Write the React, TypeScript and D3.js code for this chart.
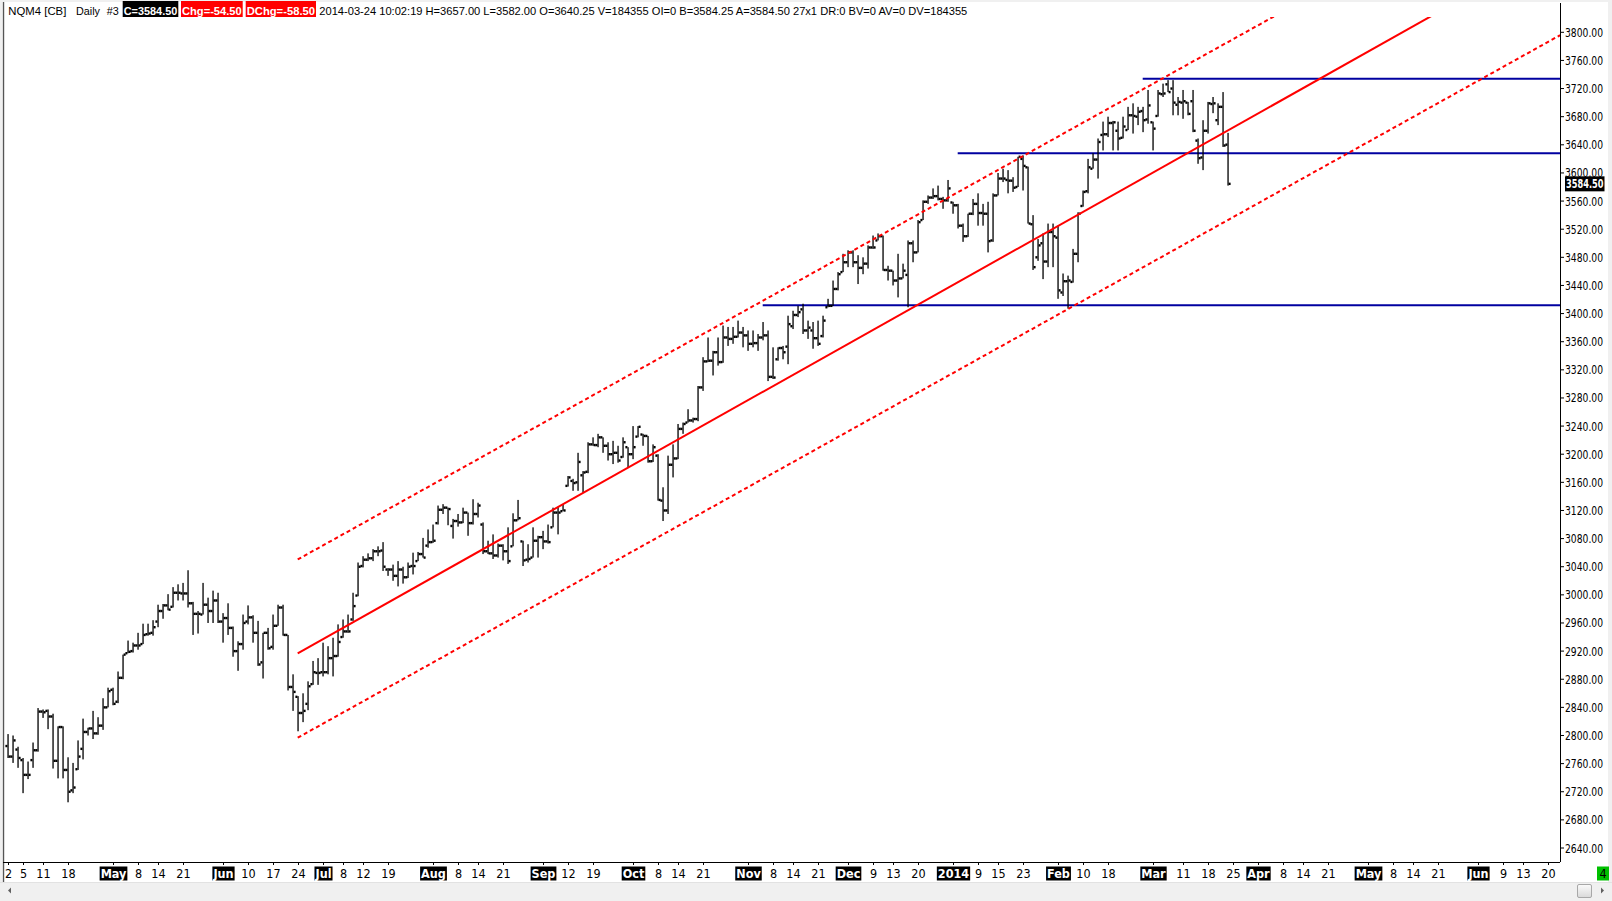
import React from 'react';
import * as d3 from 'd3';

// quote header
const symbolName = 'NQM4 [CB]';
const periodName = 'Daily';
const chartNo = '#3';
const lastClose = 3584.5;
const change = -54.5;
const dayChange = -58.5;
const quoteLine = '2014-03-24 10:02:19 H=3657.00 L=3582.00 O=3640.25 V=184355 OI=0 B=3584.25 A=3584.50 27x1 DR:0 BV=0 AV=0 DV=184355';

// calendar
const firstDay = '2013-04-02';
const lastBarDay = '2014-03-24';
const lastAxisDay = '2014-06-24';
const closedDays = ['2013-05-27', '2013-07-04', '2013-09-02', '2013-09-09', '2013-09-10', '2013-11-28',
	'2013-12-25', '2014-01-01', '2014-01-20', '2014-02-17'];

// daily bars
const opens = [2785, 2770, 2780, 2765, 2744, 2765, 2779, 2834, 2835, 2827,
	2764, 2812, 2751, 2722, 2752, 2781, 2805, 2810, 2803, 2814,
	2840, 2865, 2848, 2882, 2917, 2920, 2928, 2930, 2944, 2946,
	2962, 2977, 2985, 2983, 3003, 3002, 3002, 2988, 2973, 2972,
	2986, 2977, 2992, 2962, 2967, 2953, 2920, 2930, 2962, 2968,
	2946, 2904, 2946, 2926, 2956, 2982, 2943, 2869, 2855, 2832,
	2845, 2873, 2889, 2890, 2890, 2910, 2913, 2940, 2948, 2965,
	2999, 3041, 3050, 3052, 3062, 3063, 3036, 3036, 3027, 3036,
	3025, 3041, 3048, 3058, 3070, 3075, 3102, 3121, 3124, 3098,
	3105, 3103, 3117, 3102, 3115, 3100, 3062, 3059, 3056, 3070,
	3062, 3069, 3106, 3076, 3050, 3053, 3077, 3082, 3076, 3096,
	3117, 3119, 3155, 3162, 3160, 3170, 3175, 3214, 3213, 3224,
	3212, 3200, 3202, 3196, 3210, 3200, 3225, 3228, 3226, 3190,
	3198, 3134, 3120, 3185, 3194, 3236, 3245, 3248, 3250, 3295,
	3332, 3333, 3345, 3331, 3366, 3364, 3367, 3373, 3369, 3357,
	3358, 3366, 3369, 3310, 3335, 3351, 3353, 3382, 3398, 3406,
	3376, 3376, 3365, 3368, 3409, 3411, 3435, 3459, 3473, 3487,
	3473, 3465, 3471, 3494, 3504, 3510, 3462, 3461, 3447, 3450,
	3455, 3500, 3487, 3533, 3559, 3565, 3567, 3563, 3561, 3558,
	3554, 3525, 3510, 3542, 3556, 3543, 3542, 3504, 3568, 3592,
	3590, 3589, 3580, 3620, 3608, 3527, 3480, 3500, 3474, 3516,
	3508, 3430, 3446, 3445, 3485, 3553, 3574, 3606, 3619, 3654,
	3655, 3671, 3660, 3650, 3661, 3682, 3680, 3688, 3676, 3672,
	3681, 3712, 3726, 3720, 3697, 3700, 3700, 3702, 3646, 3622,
	3660, 3698, 3675, 3694, 3640.25];
const highs = [2802, 2800, 2784, 2768, 2763, 2790, 2839, 2837, 2837, 2831,
	2813, 2813, 2769, 2761, 2793, 2824, 2811, 2835, 2826, 2853,
	2868, 2868, 2891, 2915, 2935, 2932, 2946, 2959, 2959, 2964,
	2986, 2987, 3001, 3011, 3015, 3017, 3035, 2990, 2977, 3017,
	2996, 3006, 3003, 2974, 2988, 2955, 2934, 2972, 2985, 2971,
	2963, 2946, 2953, 2972, 2986, 2986, 2943, 2887, 2856, 2860,
	2877, 2906, 2910, 2932, 2927, 2939, 2958, 2965, 2972, 3003,
	3046, 3055, 3059, 3065, 3069, 3075, 3038, 3043, 3048, 3040,
	3046, 3060, 3061, 3081, 3093, 3100, 3127, 3129, 3124, 3108,
	3115, 3124, 3117, 3136, 3131, 3103, 3077, 3086, 3073, 3072,
	3096, 3116, 3135, 3077, 3072, 3096, 3084, 3091, 3100, 3124,
	3125, 3129, 3169, 3165, 3202, 3176, 3217, 3224, 3229, 3224,
	3217, 3219, 3212, 3224, 3210, 3240, 3240, 3229, 3226, 3214,
	3200, 3153, 3198, 3214, 3243, 3245, 3264, 3252, 3297, 3338,
	3366, 3347, 3366, 3383, 3381, 3381, 3390, 3381, 3376, 3376,
	3371, 3388, 3376, 3352, 3352, 3354, 3397, 3404, 3411, 3414,
	3390, 3388, 3390, 3397, 3421, 3447, 3459, 3485, 3490, 3490,
	3483, 3480, 3497, 3511, 3514, 3511, 3468, 3461, 3485, 3471,
	3504, 3504, 3533, 3561, 3568, 3578, 3582, 3566, 3590, 3559,
	3556, 3528, 3542, 3563, 3571, 3556, 3559, 3571, 3600, 3606,
	3604, 3594, 3623, 3625, 3609, 3540, 3506, 3514, 3528, 3528,
	3525, 3457, 3454, 3492, 3544, 3575, 3620, 3628, 3649, 3673,
	3680, 3674, 3673, 3680, 3694, 3699, 3694, 3694, 3718, 3673,
	3718, 3727, 3732, 3732, 3708, 3718, 3701, 3718, 3649, 3675,
	3701, 3708, 3699, 3715, 3657];
const lows = [2768, 2761, 2754, 2718, 2738, 2754, 2777, 2825, 2809, 2753,
	2739, 2739, 2705, 2718, 2751, 2766, 2800, 2795, 2801, 2808,
	2840, 2843, 2846, 2880, 2917, 2918, 2922, 2930, 2942, 2942,
	2954, 2966, 2978, 2982, 2992, 2992, 2982, 2943, 2945, 2972,
	2960, 2960, 2960, 2932, 2943, 2912, 2892, 2922, 2958, 2932,
	2899, 2881, 2922, 2922, 2956, 2942, 2864, 2835, 2806, 2819,
	2836, 2872, 2872, 2884, 2887, 2884, 2912, 2939, 2946, 2963,
	2998, 3039, 3048, 3048, 3055, 3034, 3027, 3020, 3012, 3016,
	3024, 3029, 3048, 3053, 3067, 3074, 3100, 3115, 3099, 3080,
	3097, 3102, 3084, 3100, 3110, 3058, 3058, 3051, 3053, 3049,
	3044, 3069, 3106, 3041, 3046, 3053, 3053, 3065, 3073, 3096,
	3086, 3119, 3154, 3148, 3148, 3145, 3173, 3212, 3210, 3202,
	3191, 3186, 3188, 3195, 3181, 3193, 3224, 3212, 3188, 3189,
	3134, 3105, 3115, 3167, 3193, 3229, 3245, 3245, 3247, 3290,
	3331, 3312, 3326, 3330, 3354, 3357, 3366, 3352, 3347, 3352,
	3347, 3362, 3304, 3307, 3333, 3335, 3328, 3378, 3395, 3371,
	3364, 3350, 3354, 3366, 3409, 3411, 3433, 3459, 3466, 3466,
	3442, 3456, 3464, 3492, 3504, 3461, 3447, 3440, 3423, 3450,
	3409, 3473, 3487, 3533, 3556, 3563, 3561, 3549, 3559, 3542,
	3521, 3502, 3509, 3540, 3525, 3525, 3487, 3502, 3568, 3587,
	3571, 3573, 3580, 3575, 3528, 3462, 3475, 3449, 3466, 3466,
	3421, 3425, 3407, 3444, 3473, 3552, 3571, 3606, 3592, 3632,
	3651, 3632, 3632, 3649, 3661, 3656, 3668, 3658, 3670, 3632,
	3680, 3708, 3715, 3682, 3682, 3677, 3682, 3658, 3613, 3604,
	3656, 3685, 3668, 3637, 3582];
const closes = [2770, 2793, 2768, 2744, 2744, 2779, 2834, 2833, 2827, 2764,
	2812, 2751, 2720, 2726, 2770, 2805, 2810, 2803, 2814, 2840,
	2863, 2845, 2882, 2915, 2919, 2928, 2928, 2943, 2945, 2954,
	2977, 2985, 2979, 3003, 3003, 3002, 2988, 2973, 2973, 2986,
	2977, 2992, 2962, 2967, 2953, 2920, 2930, 2960, 2968, 2946,
	2901, 2946, 2924, 2956, 2982, 2943, 2869, 2862, 2832, 2835,
	2870, 2890, 2889, 2890, 2910, 2913, 2933, 2948, 2948, 2984,
	3040, 3050, 3052, 3062, 3062, 3040, 3036, 3027, 3036, 3025,
	3040, 3041, 3058, 3053, 3075, 3077, 3121, 3124, 3122, 3105,
	3103, 3117, 3102, 3115, 3127, 3062, 3059, 3056, 3070, 3062,
	3048, 3106, 3109, 3049, 3051, 3077, 3082, 3076, 3075, 3117,
	3117, 3120, 3167, 3159, 3189, 3174, 3214, 3213, 3224, 3212,
	3200, 3202, 3191, 3217, 3200, 3210, 3239, 3226, 3190, 3210,
	3135, 3120, 3185, 3194, 3236, 3243, 3248, 3250, 3295, 3332,
	3333, 3345, 3331, 3366, 3364, 3367, 3373, 3369, 3357, 3358,
	3366, 3369, 3310, 3309, 3351, 3345, 3385, 3398, 3402, 3376,
	3380, 3365, 3357, 3390, 3411, 3435, 3456, 3473, 3487, 3473,
	3465, 3471, 3494, 3494, 3510, 3462, 3461, 3447, 3450, 3461,
	3500, 3487, 3530, 3559, 3565, 3567, 3563, 3561, 3578, 3554,
	3525, 3510, 3542, 3556, 3543, 3542, 3503, 3568, 3592, 3592,
	3589, 3579, 3623, 3610, 3528, 3466, 3497, 3474, 3516, 3510,
	3433, 3446, 3447, 3485, 3542, 3573, 3608, 3619, 3644, 3655,
	3671, 3672, 3649, 3666, 3682, 3681, 3687, 3675, 3696, 3663,
	3713, 3713, 3715, 3700, 3701, 3702, 3684, 3660, 3621, 3660,
	3699, 3699, 3694, 3639, 3584.5];

// axes
const yTicks = [2640, 2680, 2720, 2760, 2800, 2840, 2880, 2920, 2960, 3000, 3040, 3080, 3120, 3160, 3200,
	3240, 3280, 3320, 3360, 3400, 3440, 3480, 3520, 3560, 3600, 3640, 3680, 3720, 3760, 3800];
const tickDates = ['2013-04-02', '2013-04-05', '2013-04-11', '2013-04-18', '2013-05-01', '2013-05-08', '2013-05-14',
	'2013-05-21', '2013-06-03', '2013-06-10', '2013-06-17', '2013-06-24', '2013-07-01', '2013-07-08', '2013-07-12',
	'2013-07-19', '2013-08-01', '2013-08-08', '2013-08-14', '2013-08-21', '2013-09-03', '2013-09-12', '2013-09-19',
	'2013-10-01', '2013-10-08', '2013-10-14', '2013-10-21', '2013-11-01', '2013-11-08', '2013-11-14', '2013-11-21',
	'2013-12-02', '2013-12-09', '2013-12-13', '2013-12-20', '2014-01-02', '2014-01-09', '2014-01-15', '2014-01-23',
	'2014-02-03', '2014-02-10', '2014-02-18', '2014-03-03', '2014-03-11', '2014-03-18', '2014-03-25', '2014-04-01',
	'2014-04-08', '2014-04-14', '2014-04-21', '2014-05-01', '2014-05-08', '2014-05-14', '2014-05-21', '2014-06-02',
	'2014-06-09', '2014-06-13', '2014-06-20'];
const tickLabels = ['2', '5', '11', '18', 'May', '8', '14', '21', 'Jun', '10', '17', '24', 'Jul', '8', '12', '19',
	'Aug', '8', '14', '21', 'Sep', '12', '19', 'Oct', '8', '14', '21', 'Nov', '8', '14', '21', 'Dec', '9', '13', '20',
	'2014', '9', '15', '23', 'Feb', '10', '18', 'Mar', '11', '18', '25', 'Apr', '8', '14', '21', 'May', '8', '14', '21',
	'Jun', '9', '13', '20'];

// drawn studies
const channelFrom = ['2013-06-24', '2013-06-24', '2013-06-24'];
const channelFromPrice = [3050.3, 2916.8, 2796.8];
const channelTo = ['2014-04-07', '2014-05-19', '2014-06-24'];
const channelToPrice = [3825.5, 3820.2, 3794.0];
const channelDashed = [true, false, true];
const levelFrom = ['2013-11-06', '2014-01-03', '2014-02-27'];
const levelPrice = [3412, 3628, 3734];

function weekdays(from: string, to: string, skip: string[]) {
	const out: string[] = [];
	let t = Date.parse(from + 'T00:00:00Z');
	const end = Date.parse(to + 'T00:00:00Z');
	while (t <= end) {
		const d = new Date(t);
		const s = d.toISOString().slice(0, 10);
		if (d.getUTCDay() !== 0 && d.getUTCDay() !== 6 && skip.indexOf(s) < 0) out.push(s);
		t += 86400000;
	}
	return out;
}

const NARROW = "'Liberation Sans Narrow', 'Arial Narrow', 'DejaVu Sans Condensed', sans-serif";
const SANS = "'Liberation Sans', Arial, sans-serif";

class Chart extends React.Component<{}, {}> {
	node: HTMLDivElement | null = null;

	componentDidMount() {
		document.body.style.margin = '0';
		this.drawChart();
	}

	drawChart() {
		const w = 1612;
		const h = 901;
		const left = 3;
		const right = 1560;
		const top = 17;
		const bottom = 862;

		const barDates = weekdays(firstDay, lastBarDay, closedDays);
		const next = new Date(Date.parse(lastBarDay + 'T00:00:00Z') + 86400000).toISOString().slice(0, 10);
		const axisDates = barDates.concat(weekdays(next, lastAxisDay, []));

		const x = d3.scalePoint<string>().domain(axisDates).range([7.7, 1557.7]);
		const y = d3.scaleLinear().domain([2640, 3800]).range([848, 32.3]);

		d3.select(this.node).selectAll('*').remove();
		const svg = d3
			.select(this.node)
			.append('svg')
			.attr('width', w)
			.attr('height', h)
			.style('display', 'block');

		svg.append('rect').attr('width', w).attr('height', h).attr('fill', '#f0f0f0');
		svg.append('rect').attr('x', 2).attr('y', 2).attr('width', 1606).attr('height', 880).attr('fill', '#fff');
		svg.append('rect').attr('x', 2.8).attr('y', 2).attr('width', 1.4).attr('height', 880).attr('fill', '#555');

		svg.append('clipPath').attr('id', 'plot')
			.append('rect').attr('x', left).attr('y', top).attr('width', right - left).attr('height', bottom - top);
		const plot = svg.append('g').attr('clip-path', 'url(#plot)');

		// support / resistance levels
		levelFrom.forEach((d, i) => {
			plot.append('line')
				.attr('x1', x(d)!).attr('x2', right)
				.attr('y1', y(levelPrice[i])).attr('y2', y(levelPrice[i]))
				.attr('stroke', '#0000a0').attr('stroke-width', 2);
		});

		// bars
		const bars = closes.map((c, i) => ({ d: barDates[i], o: opens[i], h: highs[i], l: lows[i], c }));
		const g = plot.append('g').attr('fill', '#000');
		bars.forEach(b => {
			const bx = Math.round(x(b.d)!);
			const hi = y(Math.max(b.h, b.o, b.c));
			const lo = y(Math.min(b.l, b.o, b.c));
			g.append('rect').attr('x', bx - 0.6).attr('y', hi).attr('width', 1.3).attr('height', Math.max(1, lo - hi));
			g.append('rect').attr('x', bx - 2.6).attr('y', y(b.o) - 1.2).attr('width', 2).attr('height', 2.4);
			g.append('rect').attr('x', bx + 0.6).attr('y', y(b.c) - 1.2).attr('width', 2).attr('height', 2.4);
		});

		// regression channel
		channelFrom.forEach((d, i) => {
			const x0 = x(d)!;
			const y0 = y(channelFromPrice[i]);
			const x1 = x(channelTo[i])!;
			const y1 = y(channelToPrice[i]);
			const yEnd = y0 + (y1 - y0) * (right - x0) / (x1 - x0);
			plot.append('line')
				.attr('x1', x0).attr('y1', y0).attr('x2', right).attr('y2', yEnd)
				.attr('stroke', '#ff0000').attr('stroke-width', 2)
				.attr('stroke-dasharray', channelDashed[i] ? '4 3' : null);
		});

		// price axis
		svg.append('line').attr('x1', right + 0.5).attr('x2', right + 0.5).attr('y1', 3).attr('y2', bottom)
			.attr('stroke', '#000');
		yTicks.forEach(v => {
			svg.append('line').attr('x1', right).attr('x2', right + 4).attr('y1', y(v)).attr('y2', y(v)).attr('stroke', '#000');
			svg.append('text').attr('x', right + 5).attr('y', y(v) + 4.5)
				.attr('font-family', NARROW).attr('font-size', '12.5px')
				.attr('textLength', 38).attr('lengthAdjust', 'spacingAndGlyphs')
				.text(v.toFixed(2));
		});
		svg.append('rect').attr('x', right + 5).attr('y', y(lastClose) - 7.5).attr('width', 39.5).attr('height', 15)
			.attr('fill', '#000');
		svg.append('text').attr('x', right + 6).attr('y', y(lastClose) + 4.5)
			.attr('font-family', NARROW).attr('font-size', '12.5px').attr('font-weight', 'bold')
			.attr('textLength', 37.5).attr('lengthAdjust', 'spacingAndGlyphs')
			.attr('fill', '#fff').text(lastClose.toFixed(2));

		// time axis
		svg.append('line').attr('x1', left).attr('x2', right).attr('y1', bottom + 0.5).attr('y2', bottom + 0.5)
			.attr('stroke', '#000');
		tickDates.forEach((d, i) => {
			const tx = Math.round(x(d)!) + 0.5;
			const label = tickLabels[i];
			const boxed = !/^\d{1,2}$/.test(label);
			svg.append('line').attr('x1', tx).attr('x2', tx).attr('y1', bottom).attr('y2', bottom + 3).attr('stroke', '#000');
			const t = svg.append('text').attr('x', tx).attr('y', 878)
				.attr('text-anchor', 'middle')
				.attr('font-family', NARROW).attr('font-size', '12.5px')
				.attr('font-weight', boxed ? 'bold' : null)
				.attr('fill', boxed ? '#fff' : '#000')
				.text(label);
			if (boxed) {
				const tw = (t.node() as SVGTextElement).getComputedTextLength();
				svg.insert('rect', () => t.node())
					.attr('x', tx - tw / 2 - 1).attr('y', 866.5).attr('width', tw + 2).attr('height', 14)
					.attr('fill', '#000');
			}
		});

		svg.append('rect').attr('x', 1597).attr('y', 866.5).attr('width', 12).attr('height', 14).attr('fill', '#00c000');
		svg.append('text').attr('x', 1603).attr('y', 878).attr('text-anchor', 'middle')
			.attr('font-family', NARROW).attr('font-size', '12.5px').text('4');

		// scroll bar
		svg.append('rect').attr('x', 0).attr('y', 882).attr('width', w).attr('height', 19).attr('fill', '#f0f0f0');
		svg.append('line').attr('x1', 0).attr('x2', w).attr('y1', 882.5).attr('y2', 882.5).attr('stroke', '#e2e2e2');
		svg.append('path').attr('d', 'M11,887.5 L8,890.5 L11,893.5 Z').attr('fill', '#606060');
		svg.append('path').attr('d', 'M1601,887.5 L1604,890.5 L1601,893.5 Z').attr('fill', '#606060');
		const grad = svg.append('linearGradient').attr('id', 'thumb').attr('x1', 0).attr('x2', 0).attr('y1', 0).attr('y2', 1);
		grad.append('stop').attr('offset', 0).attr('stop-color', '#fbfbfb');
		grad.append('stop').attr('offset', 1).attr('stop-color', '#d9d9d9');
		svg.append('rect').attr('x', 1577.5).attr('y', 884.5).attr('width', 14).attr('height', 13).attr('rx', 1.5)
			.attr('fill', 'url(#thumb)').attr('stroke', '#a8a8a8');

		// quote header
		const head = svg.append('g').attr('font-family', SANS).attr('font-size', '11.5px');
		head.append('text').attr('x', 8.3).attr('y', 14.5).attr('textLength', 58).attr('lengthAdjust', 'spacingAndGlyphs').text(symbolName);
		head.append('text').attr('x', 76).attr('y', 14.5).attr('textLength', 24).attr('lengthAdjust', 'spacingAndGlyphs').text(periodName);
		head.append('text').attr('x', 106.7).attr('y', 14.5).attr('textLength', 12).attr('lengthAdjust', 'spacingAndGlyphs').text(chartNo);
		const boxes = [
			{ text: `C=${lastClose.toFixed(2)}`, fill: '#000', x0: 122.7, x1: 178.3 },
			{ text: `Chg=${change.toFixed(2)}`, fill: '#ff0000', x0: 181, x1: 242.7 },
			{ text: `DChg=${dayChange.toFixed(2)}`, fill: '#ff0000', x0: 245.7, x1: 316 },
		];
		boxes.forEach(b => {
			head.append('rect').attr('x', b.x0).attr('y', 1).attr('width', b.x1 - b.x0).attr('height', 16).attr('fill', b.fill);
			head.append('text').attr('x', b.x0 + 1).attr('y', 14.5).attr('font-weight', 'bold').attr('fill', '#fff')
				.attr('textLength', b.x1 - b.x0 - 2).attr('lengthAdjust', 'spacingAndGlyphs').text(b.text);
		});
		head.append('text').attr('x', 319.3).attr('y', 14.5).attr('textLength', 648).attr('lengthAdjust', 'spacingAndGlyphs')
			.text(quoteLine);
	}

	render() {
		return (
			<div ref={el => { this.node = el; }} />
		);
	}
}

export default function App() {
	return <Chart />;
}
